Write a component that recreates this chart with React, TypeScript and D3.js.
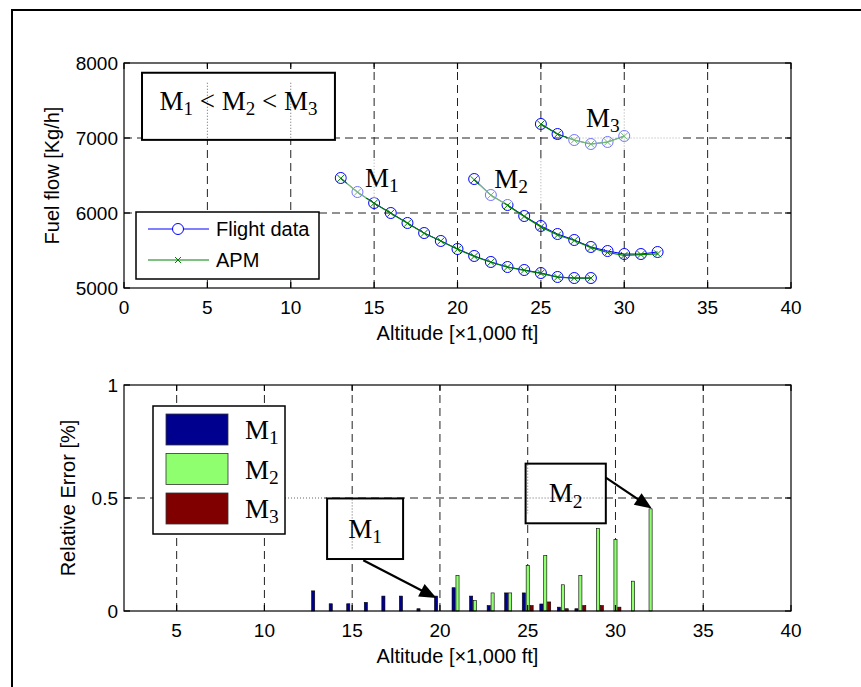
import React from "react";
import * as d3 from "d3";

// ---------- data ----------
const altM1 = [13, 14, 15, 16, 17, 18, 19, 20, 21, 22, 23, 24, 25, 26, 27, 28];
const flightM1 = [6467, 6280, 6133, 6000, 5867, 5733, 5627, 5520, 5427, 5347, 5280, 5240, 5200, 5147, 5133, 5133];
const apmM1 = [6462, 6278, 6131, 5998, 5863, 5729, 5626, 5516, 5421, 5343, 5279, 5236, 5196, 5145, 5132, 5132];

const altM2 = [21, 22, 23, 24, 25, 26, 27, 28, 29, 30, 31, 32];
const flightM2 = [6453, 6240, 6107, 5960, 5827, 5720, 5640, 5547, 5493, 5453, 5453, 5480];
const apmM2 = [6443, 6237, 6102, 5955, 5815, 5706, 5633, 5538, 5473, 5436, 5446, 5455];

const altM3 = [25, 26, 27, 28, 29, 30];
const flightM3 = [7187, 7053, 6973, 6920, 6947, 7027];
const apmM3 = [7185, 7050, 6972, 6918, 6945, 7025];

const errM1 = [0.089, 0.032, 0.032, 0.038, 0.066, 0.066, 0.01, 0.066, 0.103, 0.066, 0.024, 0.08, 0.08, 0.031, 0.017, 0.01];
const errM2 = [0.158, 0.046, 0.08, 0.08, 0.202, 0.246, 0.116, 0.158, 0.366, 0.316, 0.132, 0.452];
const errM3 = [0.024, 0.04, 0.01, 0.024, 0.024, 0.017];

const seriesNames = ["M1", "M2", "M3"];
const seriesColors = ["#00008F", "#8FFF70", "#800000"];

const topXTicks = [0, 5, 10, 15, 20, 25, 30, 35, 40];
const topYTicks = [5000, 6000, 7000, 8000];
const topXGrid = [5, 10, 15, 20, 25, 30, 35];
const topYGrid = [6000, 7000];
const botXTicks = [5, 10, 15, 20, 25, 30, 35, 40];
const botYTicks = [0, 0.5, 1];
const botXGrid = [5, 10, 15, 20, 25, 30, 35];
const botYGrid = [0.5];

const SANS = "'Liberation Sans', Arial, sans-serif";
const SERIF = "'Liberation Serif', 'Times New Roman', serif";

// ---------- scales ----------
const topX = d3.scaleLinear().domain([0, 40]).range([124, 791]);
const topY = d3.scaleLinear().domain([5000, 8000]).range([288, 63]);
const botX = d3.scaleLinear().domain([2, 40]).range([124, 791]);
const botY = d3.scaleLinear().domain([0, 1]).range([611, 385]);
const groupOffset = d3.scaleBand<string>().domain(seriesNames).range([-1 / 3, 1 / 3]).paddingInner(0.2).paddingOuter(0.1);

// annotation regions (data coords) where grid shows dotted and data is faded
const topMasks = [
  { x0: 13.35, x1: 16.85, y0: 6200, y1: 6710 },
  { x0: 21.3, x1: 25.3, y0: 6130, y1: 6730 },
  { x0: 26.6, x1: 33.4, y0: 6840, y1: 7380 },
];

function Sub({ x, y, base, sub, size, anchor = "start" }: any) {
  return (
    <text x={x} y={y} fontFamily={SERIF} fontSize={size} textAnchor={anchor} fill="#000">
      <tspan>{base}</tspan>
      <tspan fontSize={size * 0.72} dy={size * 0.2}>{sub}</tspan>
    </text>
  );
}

function Arrow({ x1, y1, x2, y2 }: any) {
  const dx = x2 - x1, dy = y2 - y1;
  const len = Math.hypot(dx, dy);
  const ux = dx / len, uy = dy / len;
  const L = 17, hw = 7;
  const bx = x2 - ux * L, by = y2 - uy * L;
  const pts = [[x2, y2], [bx - uy * hw, by + ux * hw], [bx + uy * hw, by - ux * hw]];
  return (
    <g>
      <line x1={x1} y1={y1} x2={bx + ux * 2} y2={by + uy * 2} stroke="#000" strokeWidth={2.2} />
      <polygon points={pts.map((p) => p.join(",")).join(" ")} fill="#000" />
    </g>
  );
}

function AxesFrame({ xs, ys, xTicks, yTicks }: any) {
  const [xa, xb] = xs.range();
  const [ya, yb] = ys.range();
  const T = 6;
  return (
    <g stroke="#000" strokeWidth={1.2} fill="none">
      <rect x={xa} y={yb} width={xb - xa} height={ya - yb} />
      {xTicks.map((t: number) => (
        <g key={"x" + t}>
          <line x1={xs(t)} x2={xs(t)} y1={ya} y2={ya - T} />
          <line x1={xs(t)} x2={xs(t)} y1={yb} y2={yb + T} />
        </g>
      ))}
      {yTicks.map((t: number) => (
        <g key={"y" + t}>
          <line x1={xa} x2={xa + T} y1={ys(t)} y2={ys(t)} />
          <line x1={xb} x2={xb - T} y1={ys(t)} y2={ys(t)} />
        </g>
      ))}
    </g>
  );
}

function Grid({ xs, ys, xg, yg }: any) {
  const [xa, xb] = xs.range();
  const [ya, yb] = ys.range();
  return (
    <g stroke="#222" strokeWidth={1} strokeDasharray="8,5">
      {xg.map((t: number) => <line key={"gx" + t} x1={xs(t)} x2={xs(t)} y1={ya} y2={yb} />)}
      {yg.map((t: number) => <line key={"gy" + t} x1={xa} x2={xb} y1={ys(t)} y2={ys(t)} />)}
    </g>
  );
}

function DottedInside({ xs, ys, xg, yg, r }: any) {
  return (
    <g stroke="#666" strokeWidth={1} strokeDasharray="1,2">
      {xg.filter((t: number) => xs(t) > r.x0 && xs(t) < r.x1).map((t: number) => (
        <line key={"dx" + t} x1={xs(t)} x2={xs(t)} y1={r.y0} y2={r.y1} />
      ))}
      {yg.filter((t: number) => ys(t) > r.y0 && ys(t) < r.y1).map((t: number) => (
        <line key={"dy" + t} x1={r.x0} x2={r.x1} y1={ys(t)} y2={ys(t)} />
      ))}
    </g>
  );
}

function XMark({ cx, cy, s, color }: any) {
  return (
    <g stroke={color} strokeWidth={1}>
      <line x1={cx - s} y1={cy - s} x2={cx + s} y2={cy + s} />
      <line x1={cx - s} y1={cy + s} x2={cx + s} y2={cy - s} />
    </g>
  );
}

export default function App() {
  const line = d3.line<[number, number]>().x((d) => topX(d[0])).y((d) => topY(d[1]));
  const flightSets = [
    altM1.map((a, i) => [a, flightM1[i]] as [number, number]),
    altM2.map((a, i) => [a, flightM2[i]] as [number, number]),
    altM3.map((a, i) => [a, flightM3[i]] as [number, number]),
  ];
  const apmSets = [
    altM1.map((a, i) => [a, apmM1[i]] as [number, number]),
    altM2.map((a, i) => [a, apmM2[i]] as [number, number]),
    altM3.map((a, i) => [a, apmM3[i]] as [number, number]),
  ];
  const barSets = [
    { name: "M1", alts: altM1, vals: errM1, color: seriesColors[0] },
    { name: "M2", alts: altM2, vals: errM2, color: seriesColors[1] },
    { name: "M3", alts: altM3, vals: errM3, color: seriesColors[2] },
  ];
  const bw = botX(groupOffset.bandwidth()) - botX(0);

  const topMaskPx = topMasks.map((m) => ({ x0: topX(m.x0), x1: topX(m.x1), y0: topY(m.y1), y1: topY(m.y0) }));

  const sumBox = { x0: topX(1.08), x1: topX(12.65), y0: topY(7870), y1: topY(6975) };

  const b1 = { x0: botX(13.57), x1: botX(17.9), y0: botY(0.498), y1: botY(0.23) };
  const b2 = { x0: botX(24.88), x1: botX(29.45), y0: botY(0.652), y1: botY(0.388) };
  const legB = { x0: 153, y0: 406, x1: 285, y1: 534 };
  const legMask = { x0: legB.x1, x1: botX(13.4), y0: botY(0.53), y1: botY(0.47) };

  return (
    <svg width={861} height={687} style={{ position: "absolute", left: 0, top: 0, background: "#fff" }}>
      <rect x={12} y={10} width={900} height={720} fill="none" stroke="#000" strokeWidth={2} />

      {/* ================= TOP PLOT ================= */}
      <Grid xs={topX} ys={topY} xg={topXGrid} yg={topYGrid} />
      {topMaskPx.map((r, i) => (
        <g key={"tm" + i}>
          <rect x={r.x0} y={r.y0} width={r.x1 - r.x0} height={r.y1 - r.y0} fill="#fff" />
          <DottedInside xs={topX} ys={topY} xg={topXGrid} yg={topYGrid} r={r} />
        </g>
      ))}
      {flightSets.map((s, i) => (
        <g key={"fd" + i}>
          <path d={line(s) || ""} fill="none" stroke="#0000FF" strokeWidth={1} />
          {s.map((p, j) => (
            <circle key={j} cx={topX(p[0])} cy={topY(p[1])} r={5.5} fill="none" stroke="#0000FF" strokeWidth={1} />
          ))}
        </g>
      ))}
      {apmSets.map((s, i) => (
        <g key={"apm" + i}>
          <path d={line(s) || ""} fill="none" stroke="#008000" strokeWidth={1.2} />
          {s.map((p, j) => (
            <XMark key={j} cx={topX(p[0])} cy={topY(p[1])} s={3.5} color="#008000" />
          ))}
        </g>
      ))}
      {topMaskPx.map((r, i) => (
        <rect key={"tmo" + i} x={r.x0} y={r.y0} width={r.x1 - r.x0} height={r.y1 - r.y0} fill="#fff" opacity={0.45} />
      ))}
      <Sub x={topX(14.45)} y={topY(6347)} base="M" sub="1" size={27} />
      <Sub x={topX(22.2)} y={topY(6333)} base="M" sub="2" size={27} />
      <Sub x={topX(27.7)} y={topY(7147)} base="M" sub="3" size={27} />

      {/* summary box */}
      <rect x={sumBox.x0} y={sumBox.y0} width={sumBox.x1 - sumBox.x0} height={sumBox.y1 - sumBox.y0} fill="#fff" />
      <DottedInside xs={topX} ys={topY} xg={topXGrid} yg={[]} r={{ x0: sumBox.x0, x1: sumBox.x1, y0: sumBox.y0 + 10, y1: sumBox.y1 }} />
      <rect x={sumBox.x0} y={sumBox.y0} width={sumBox.x1 - sumBox.x0} height={sumBox.y1 - sumBox.y0} fill="none" stroke="#000" strokeWidth={2} />
      <text x={(sumBox.x0 + sumBox.x1) / 2} y={110} fontFamily={SERIF} fontSize={27} textAnchor="middle">
        <tspan>M</tspan>
        <tspan fontSize={19} dy={5}>1</tspan>
        <tspan dy={-5}>{" < M"}</tspan>
        <tspan fontSize={19} dy={5}>2</tspan>
        <tspan dy={-5}>{" < M"}</tspan>
        <tspan fontSize={19} dy={5}>3</tspan>
      </text>

      <AxesFrame xs={topX} ys={topY} xTicks={topXTicks} yTicks={topYTicks} />

      {/* top legend */}
      <g>
        <rect x={136} y={212} width={183} height={67} fill="#fff" stroke="#000" strokeWidth={1.5} />
        <line x1={148} x2={209} y1={229} y2={229} stroke="#0000FF" strokeWidth={1} />
        <circle cx={178} cy={229} r={5.5} fill="#fff" stroke="#0000FF" strokeWidth={1} />
        <text x={216} y={236} fontFamily={SANS} fontSize={20}>Flight data</text>
        <line x1={148} x2={209} y1={260} y2={260} stroke="#008000" strokeWidth={1} />
        <XMark cx={178} cy={260} s={3} color="#008000" />
        <text x={216} y={267} fontFamily={SANS} fontSize={20}>APM</text>
      </g>

      {/* top tick labels */}
      <g fontFamily={SANS} fontSize={19} fill="#000">
        {topXTicks.map((t) => (
          <text key={"tx" + t} x={topX(t)} y={314} textAnchor="middle">{t}</text>
        ))}
        {topYTicks.map((t) => (
          <text key={"ty" + t} x={118} y={topY(t)} dy="0.35em" textAnchor="end">{t}</text>
        ))}
      </g>
      <text x={(topX(0) + topX(40)) / 2} y={340} fontFamily={SANS} fontSize={20} textAnchor="middle">Altitude [×1,000 ft]</text>
      <text transform={`translate(58.5,${(topY(5000) + topY(8000)) / 2}) rotate(-90)`} fontFamily={SANS} fontSize={20} textAnchor="middle">Fuel flow [Kg/h]</text>

      {/* ================= BOTTOM PLOT ================= */}
      <Grid xs={botX} ys={botY} xg={botXGrid} yg={botYGrid} />
      {barSets.map((s) => (
        <g key={"bar" + s.name}>
          {s.alts.map((a, i) => {
            const x = botX(a + (groupOffset(s.name) as number));
            const y = botY(s.vals[i]);
            return <rect key={i} x={x} y={y} width={bw} height={botY(0) - y} fill={s.color} stroke="#000" strokeWidth={0.6} />;
          })}
        </g>
      ))}

      <rect x={legMask.x0} y={legMask.y0} width={legMask.x1 - legMask.x0} height={legMask.y1 - legMask.y0} fill="#fff" />
      <DottedInside xs={botX} ys={botY} xg={[]} yg={botYGrid} r={legMask} />

      {[b1, b2].map((b, i) => (
        <g key={"bb" + i}>
          <rect x={b.x0} y={b.y0} width={b.x1 - b.x0} height={b.y1 - b.y0} fill="#fff" />
          <DottedInside xs={botX} ys={botY} xg={botXGrid} yg={botYGrid} r={{ x0: b.x0 + 1, x1: b.x1 - 1, y0: b.y0 + 1, y1: b.y1 - 10 }} />
          <rect x={b.x0} y={b.y0} width={b.x1 - b.x0} height={b.y1 - b.y0} fill="none" stroke="#000" strokeWidth={2} />
        </g>
      ))}
      <Sub x={(b1.x0 + b1.x1) / 2} y={(b1.y0 + b1.y1) / 2 + 9} base="M" sub="1" size={27} anchor="middle" />
      <Sub x={(b2.x0 + b2.x1) / 2} y={(b2.y0 + b2.y1) / 2 + 9} base="M" sub="2" size={27} anchor="middle" />
      <Arrow x1={botX(15.63)} y1={botY(0.225)} x2={botX(19.8)} y2={botY(0.057)} />
      <Arrow x1={botX(29.45)} y1={botY(0.59)} x2={botX(32.07)} y2={botY(0.454)} />

      <AxesFrame xs={botX} ys={botY} xTicks={botXTicks} yTicks={botYTicks} />

      {/* bottom legend */}
      <g>
        <rect x={legB.x0} y={legB.y0} width={legB.x1 - legB.x0} height={legB.y1 - legB.y0} fill="#fff" stroke="#000" strokeWidth={1.5} />
        {seriesNames.map((n, i) => (
          <g key={"lg" + n}>
            <rect x={166} y={414 + i * 39.5} width={62} height={31} fill={seriesColors[i]} stroke="#333" strokeWidth={0.8} />
            <Sub x={245} y={439 + i * 39.5} base="M" sub={n.slice(1)} size={27} />
          </g>
        ))}
      </g>

      <g fontFamily={SANS} fontSize={19} fill="#000">
        {botXTicks.map((t) => (
          <text key={"bx" + t} x={botX(t)} y={637} textAnchor="middle">{t}</text>
        ))}
        {botYTicks.map((t) => (
          <text key={"by" + t} x={118} y={botY(t)} dy="0.35em" textAnchor="end">{t}</text>
        ))}
      </g>
      <text x={(botX(2) + botX(40)) / 2} y={663} fontFamily={SANS} fontSize={20} textAnchor="middle">Altitude [×1,000 ft]</text>
      <text transform={`translate(74.5,${(botY(0) + botY(1)) / 2}) rotate(-90)`} fontFamily={SANS} fontSize={20} textAnchor="middle">Relative Error [%]</text>
    </svg>
  );
}
